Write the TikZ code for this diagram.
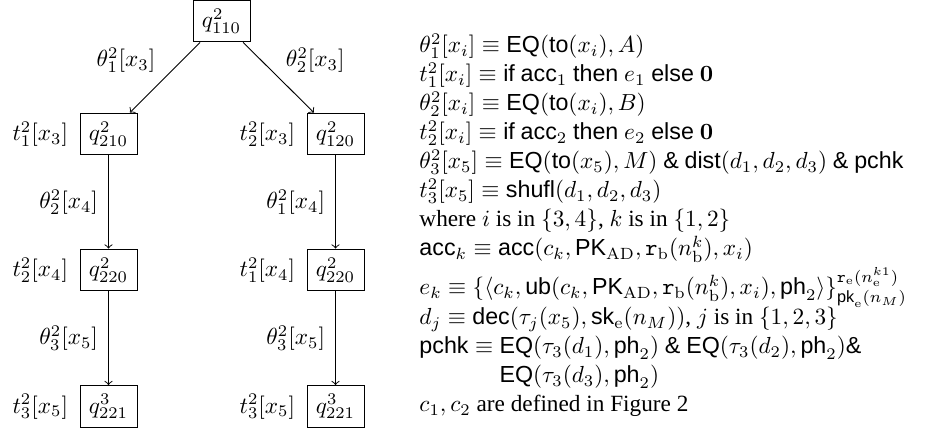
\documentclass[tikz,border=0pt]{standalone}
\usepackage{amsmath,amssymb}
\usepackage[no-math]{fontspec}
\setmainfont{Liberation Serif}
\setsansfont{Liberation Sans}
\newcommand{\sff}[1]{\textsf{#1}}
\begin{document}
\begin{tikzpicture}[x=0.43pt,y=-0.43pt,
  qbox/.style={draw, line width=0.4pt, minimum width=24.5pt, minimum height=18pt, inner sep=2pt},
  lbl/.style={label distance=1.4pt},
  edge/.style={->, line width=0.4pt},
  deftext/.style={anchor=base west, inner sep=0pt}]
\useasboundingbox (0,0) rectangle (941,431);
% tree
\node[qbox] (top) at (221.5,21) {$q^2_{110}$};
\node[qbox, label={[lbl]left:$t_1^2[x_3]$}] (L1) at (108.5,134) {$q^2_{210}$};
\node[qbox, label={[lbl]left:$t_2^2[x_3]$}] (R1) at (335.5,134) {$q^2_{120}$};
\node[qbox, label={[lbl]left:$t_2^2[x_4]$}] (L2) at (108.5,270) {$q^2_{220}$};
\node[qbox, label={[lbl]left:$t_1^2[x_4]$}] (R2) at (335.5,270) {$q^2_{220}$};
\node[qbox, label={[lbl]left:$t_3^2[x_5]$}] (L3) at (108.5,406.5) {$q^3_{221}$};
\node[qbox, label={[lbl]left:$t_3^2[x_5]$}] (R3) at (335.5,406.5) {$q^3_{221}$};
\draw[edge] (top) -- node[midway, above left, inner sep=2pt, xshift=-2pt] {$\theta_1^2[x_3]$} (L1);
\draw[edge] (top) -- node[midway, above right, inner sep=2pt, xshift=1pt] {$\theta_2^2[x_3]$} (R1);
\draw[edge] (L1) -- node[midway, left, xshift=-1pt] {$\theta_2^2[x_4]$} (L2);
\draw[edge] (R1) -- node[midway, left, xshift=-1pt] {$\theta_1^2[x_4]$} (R2);
\draw[edge] (L2) -- node[midway, left, xshift=-1pt] {$\theta_3^2[x_5]$} (L3);
\draw[edge] (R2) -- node[midway, left, xshift=-1pt] {$\theta_3^2[x_5]$} (R3);
% definitions
\node[deftext] (d1) at (419,53) {$\theta_1^2[x_i] \equiv \sff{EQ}(\sff{to}(x_i), A)$};
\node[deftext] (d2) at (419,82) {$t_1^2[x_i] \equiv \sff{if}\ \sff{acc}_1\ \sff{then}\ e_1\ \sff{else}\ \mathbf{0}$};
\node[deftext] (d3) at (419,111) {$\theta_2^2[x_i] \equiv \sff{EQ}(\sff{to}(x_i), B)$};
\node[deftext] (d4) at (419,140) {$t_2^2[x_i] \equiv \sff{if}\ \sff{acc}_2\ \sff{then}\ e_2\ \sff{else}\ \mathbf{0}$};
\node[deftext] (d5) at (419,169) {$\theta_3^2[x_5] \equiv \sff{EQ}(\sff{to}(x_5), M)$ \sff{\&} $\sff{dist}(d_1,d_2,d_3)$ \sff{\&} \sff{pchk}};
\node[deftext] (d6) at (419,198) {$t_3^2[x_5] \equiv \sff{shufl}(d_1,d_2,d_3)$};
\node[deftext] (d7) at (419,227) {where $i$ is in $\{3,4\}$, $k$ is in $\{1,2\}$};
\node[deftext] (d8) at (419,256) {$\sff{acc}_k \equiv \sff{acc}(c_k, \sff{PK}_{\mathrm{AD}}, \mathtt{r}_{\mathrm{b}}(n_{\mathrm{b}}^k), x_i)$};
\node[deftext] (d9) at (419,295) {$e_k \equiv \{\langle c_k, \sff{ub}(c_k, \sff{PK}_{\mathrm{AD}}, \mathtt{r}_{\mathrm{b}}(n_{\mathrm{b}}^k), x_i), \sff{ph}_2\rangle\}^{\mathtt{r}_{\mathrm{e}}(n_{\mathrm{e}}^{k1})}_{\sff{pk}_{\mathrm{e}}(n_M)}$};
\node[deftext] (d10) at (419,325) {$d_j \equiv \sff{dec}(\tau_j(x_5), \sff{sk}_{\mathrm{e}}(n_M))$, $j$ is in $\{1,2,3\}$};
\node[deftext] (d11) at (419,354) {$\sff{pchk} \equiv \sff{EQ}(\tau_3(d_1), \sff{ph}_2)$ \sff{\&} $\sff{EQ}(\tau_3(d_2), \sff{ph}_2)$\sff{\&}};
\node[deftext] (d12) at (419,383) {$\phantom{\sff{pchk} \equiv{}}\sff{EQ}(\tau_3(d_3), \sff{ph}_2)$};
\node[deftext] (d13) at (419,412) {$c_1, c_2$ are defined in Figure 2};
\end{tikzpicture}
\end{document}
